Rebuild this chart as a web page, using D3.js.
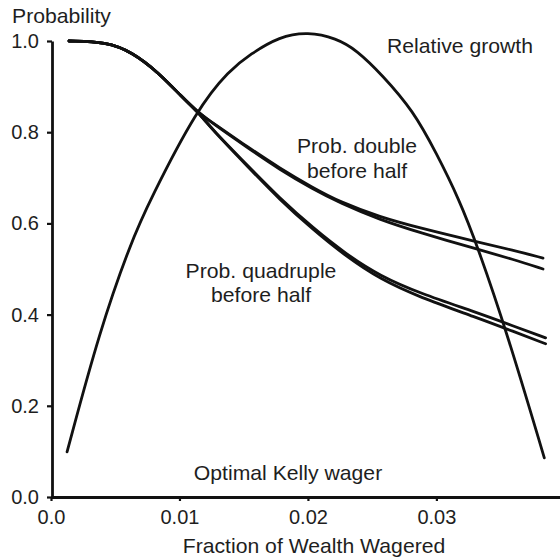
<!DOCTYPE html>
<html>
<head>
<meta charset="utf-8">
<script src="https://cdn.jsdelivr.net/npm/d3@7"></script>
<style>
  body { margin: 0; background: #fff; }
  text { font-family: "Liberation Sans", Arial, sans-serif; fill: #1e1e1e; }
</style>
</head>
<body>
<svg width="560" height="559"></svg>
<script>
// tick values
const fracTicks = [0.0, 0.01, 0.02, 0.03];
const probTicks = [0.0, 0.2, 0.4, 0.6, 0.8, 1.0];

// relative growth curve
const growthF = [0.00125, 0.0038, 0.0062, 0.0077, 0.0114, 0.0139, 0.0155, 0.0178, 0.0200, 0.0222, 0.0238, 0.0258, 0.0282, 0.0300, 0.03175, 0.0332, 0.0355, 0.0384];
const growthP = [0.099, 0.366, 0.557, 0.651, 0.853, 0.936, 0.971, 1.010, 1.020, 1.006, 0.980, 0.925, 0.847, 0.754, 0.654, 0.550, 0.360, 0.086];

// shared start of the probability curves
const sharedF = [0.0014, 0.0043, 0.0063, 0.0084, 0.0102];
const sharedP = [1.000, 0.998, 0.976, 0.930, 0.877];

// prob. double before half (two versions)
const doubleF  = [0.01144, 0.0126, 0.0153, 0.0178, 0.0204, 0.0225, 0.0256, 0.0287, 0.0331, 0.036, 0.0383];
const doubleP1 = [0.844, 0.820, 0.768, 0.721, 0.678, 0.647, 0.614, 0.590, 0.560, 0.541, 0.524];
const doubleP2 = [0.844, 0.819, 0.766, 0.718, 0.675, 0.645, 0.608, 0.580, 0.544, 0.521, 0.500];

// prob. quadruple before half (two versions)
const quadF  = [0.01144, 0.0126, 0.0153, 0.0178, 0.0204, 0.0230, 0.0256, 0.0287, 0.0331, 0.036, 0.0385];
const quadP1 = [0.844, 0.805, 0.727, 0.655, 0.590, 0.532, 0.485, 0.447, 0.405, 0.375, 0.349];
const quadP2 = [0.844, 0.804, 0.725, 0.652, 0.586, 0.527, 0.478, 0.438, 0.394, 0.363, 0.336];

const svg = d3.select('svg');

const x = d3.scaleLinear().domain([0, 0.0397]).range([51, 561]);
const y = d3.scaleLinear().domain([0, 1]).range([497, 41]);

const line = d3.line()
  .x(d => x(d[0]))
  .y(d => y(d[1]))
  .curve(d3.curveBasis);

const zip = (fs, ps) => fs.map((f, i) => [f, ps[i]]);
const shared = zip(sharedF, sharedP);

const curves = [
  zip(growthF, growthP),
  shared.concat(zip(doubleF, doubleP1)),
  shared.concat(zip(doubleF, doubleP2)),
  shared.concat(zip(quadF, quadP1)),
  shared.concat(zip(quadF, quadP2))
];

svg.selectAll('path.curve')
  .data(curves)
  .enter()
  .append('path')
  .attr('class', 'curve')
  .attr('d', line)
  .attr('fill', 'none')
  .attr('stroke', '#111')
  .attr('stroke-width', 2.8)
  .attr('stroke-linecap', 'round');

// axes
const xAxis = d3.axisBottom(x)
  .tickValues(fracTicks)
  .tickFormat(d => d === 0 ? '0.0' : d3.format('.2f')(d))
  .tickSize(4)
  .tickSizeOuter(0)
  .tickPadding(9);

const yAxis = d3.axisLeft(y)
  .tickValues(probTicks)
  .tickFormat(d3.format('.1f'))
  .tickSize(5)
  .tickSizeOuter(0)
  .tickPadding(8);

const gx = svg.append('g').attr('transform', 'translate(0,497)').call(xAxis);
const gy = svg.append('g').attr('transform', 'translate(52,0)').call(yAxis);

[gx, gy].forEach(g => {
  g.select('.domain').attr('stroke', '#111').attr('stroke-width', 2.8);
  g.selectAll('.tick line').attr('stroke', '#111').attr('stroke-width', 2.2);
  g.selectAll('.tick text')
    .attr('fill', '#1e1e1e')
    .style('font-size', '20px')
    .style('font-family', '"Liberation Sans", Arial, sans-serif');
});

// labels
const labels = [
  { t: 'Probability', x: 12, y: 23, a: 'start' },
  { t: 'Fraction of Wealth Wagered', x: 314, y: 553, a: 'middle' },
  { t: 'Relative growth', x: 387, y: 53, a: 'start' },
  { t: 'Prob. double', x: 357, y: 153, a: 'middle' },
  { t: 'before half', x: 357, y: 178, a: 'middle' },
  { t: 'Prob. quadruple', x: 261, y: 278, a: 'middle' },
  { t: 'before half', x: 261, y: 302, a: 'middle' },
  { t: 'Optimal Kelly wager', x: 288, y: 480, a: 'middle' }
];

svg.selectAll('text.label')
  .data(labels)
  .enter()
  .append('text')
  .attr('class', 'label')
  .attr('transform', d => `translate(${d.x},${d.y}) scale(1.06,1)`)
  .attr('text-anchor', d => d.a)
  .style('font-size', '20px')
  .text(d => d.t);
</script>
</body>
</html>
